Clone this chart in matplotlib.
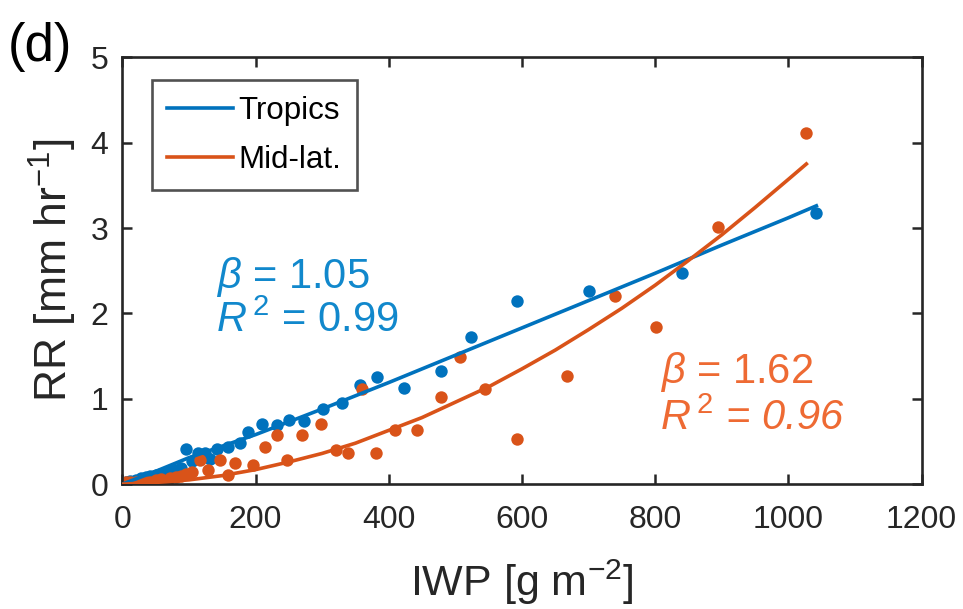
import matplotlib
matplotlib.use("Agg")
import matplotlib.pyplot as plt

plt.rcParams['font.family'] = ['Liberation Sans', 'DejaVu Sans']
plt.rcParams['mathtext.fontset'] = 'custom'
plt.rcParams['mathtext.rm'] = 'Liberation Sans'
plt.rcParams['mathtext.it'] = 'Liberation Sans:italic'

# Tropics scatter
trop_x = [1041, 841, 700, 592, 523, 478, 423, 382, 357, 330, 301, 273, 250, 232,
          210, 189, 177, 159, 142, 124, 114, 96, 132,
          5, 12, 20, 28, 35, 42, 50, 57, 65, 72, 80, 88, 105]
trop_y = [3.17, 2.47, 2.26, 2.15, 1.72, 1.32, 1.13, 1.26, 1.16, 0.95, 0.88, 0.74, 0.75, 0.69,
          0.70, 0.61, 0.48, 0.43, 0.41, 0.37, 0.37, 0.41, 0.30,
          0.02, 0.04, 0.05, 0.07, 0.08, 0.09, 0.11, 0.12, 0.14, 0.15, 0.17, 0.19, 0.27]

# Mid-latitude scatter
mid_x = [1027, 894, 739, 802, 667, 592, 545, 507, 478, 442, 410, 381, 360, 339, 321,
         298, 270, 232, 214, 247, 196, 169, 147, 117, 159, 129,
         5, 12, 20, 28, 35, 42, 50, 58, 65, 72, 80, 88, 96, 105]
mid_y = [4.11, 3.01, 2.20, 1.84, 1.27, 0.53, 1.11, 1.49, 1.02, 0.63, 0.64, 0.36, 1.12, 0.36, 0.40,
         0.70, 0.58, 0.57, 0.43, 0.28, 0.23, 0.25, 0.28, 0.28, 0.11, 0.16,
         0.02, 0.03, 0.02, 0.04, 0.03, 0.02, 0.05, 0.06, 0.04, 0.07, 0.08, 0.10, 0.12, 0.14]

# Fit curves
trop_fit_x = [0, 50, 100, 200, 300, 400, 500, 600, 700, 800, 900, 1000, 1042]
trop_fit_y = [0, 0.15, 0.31, 0.58, 0.88, 1.19, 1.51, 1.83, 2.15, 2.47, 2.80, 3.12, 3.26]
mid_fit_x = [0, 50, 100, 150, 200, 250, 300, 350, 400, 450, 500, 550, 600, 650, 700,
             750, 800, 850, 900, 950, 1000, 1027]
mid_fit_y = [0, 0.02, 0.05, 0.10, 0.17, 0.26, 0.36, 0.48, 0.63, 0.78, 0.96, 1.14, 1.35,
             1.57, 1.81, 2.06, 2.33, 2.62, 2.92, 3.24, 3.57, 3.75]

blue = '#0072BD'
orange = '#D95319'
blue_txt = '#1188CC'
orange_txt = '#EE6A33'
axcol = '#262626'

fig = plt.figure(figsize=(9.63, 6.09), dpi=100)
ax = fig.add_axes([0.127, 0.205, 0.830, 0.701])

ax.scatter(trop_x, trop_y, s=80, color=blue, zorder=2, linewidths=0)
l1, = ax.plot(trop_fit_x, trop_fit_y, color=blue, lw=2.6, zorder=3, label='Tropics')
ax.scatter(mid_x, mid_y, s=80, color=orange, zorder=2, linewidths=0)
l2, = ax.plot(mid_fit_x, mid_fit_y, color=orange, lw=2.6, zorder=3, label='Mid-lat.')

ax.set_xlim(0, 1200)
ax.set_ylim(0, 5)
ax.set_xticks([0, 200, 400, 600, 800, 1000, 1200])
ax.set_yticks([0, 1, 2, 3, 4, 5])
ax.tick_params(direction='in', length=7, width=1.8, top=True, right=True,
               labelsize=23, colors=axcol)
ax.tick_params(axis='x', pad=15)
ax.tick_params(axis='y', pad=10)
for sp in ax.spines.values():
    sp.set_linewidth(1.9)
    sp.set_color(axcol)

ax.set_xlabel('IWP [g m$^{-2}$]', fontsize=31, color=axcol, labelpad=16)
ax.set_ylabel('RR [mm hr$^{-1}$]', fontsize=32, color=axcol, labelpad=8)

leg = ax.legend(handles=[l1, l2], loc='upper left', bbox_to_anchor=(0.037, 0.946),
                fontsize=22.5, frameon=True, fancybox=False, handlelength=2.1,
                handletextpad=0.18, borderpad=0.5, labelspacing=0.6, borderaxespad=0)
leg.get_frame().set_edgecolor(axcol)
leg.get_frame().set_linewidth(1.9)

ax.text(140, 2.30, r'$\beta$ = 1.05', fontsize=30, color=blue_txt)
ax.text(140, 1.78, r'$R^{\,2}$ = 0.99', fontsize=30, color=blue_txt)
ax.text(807, 1.19, r'$\beta$ = 1.62', fontsize=30, color=orange_txt)
ax.text(807, 0.63, r'$R^{\,2}$ = 0.96', fontsize=30, color=orange_txt, style='italic')

fig.text(0.008, 0.9, '(d)', fontsize=38, color='black')

fig.savefig('out.png', dpi=100)
